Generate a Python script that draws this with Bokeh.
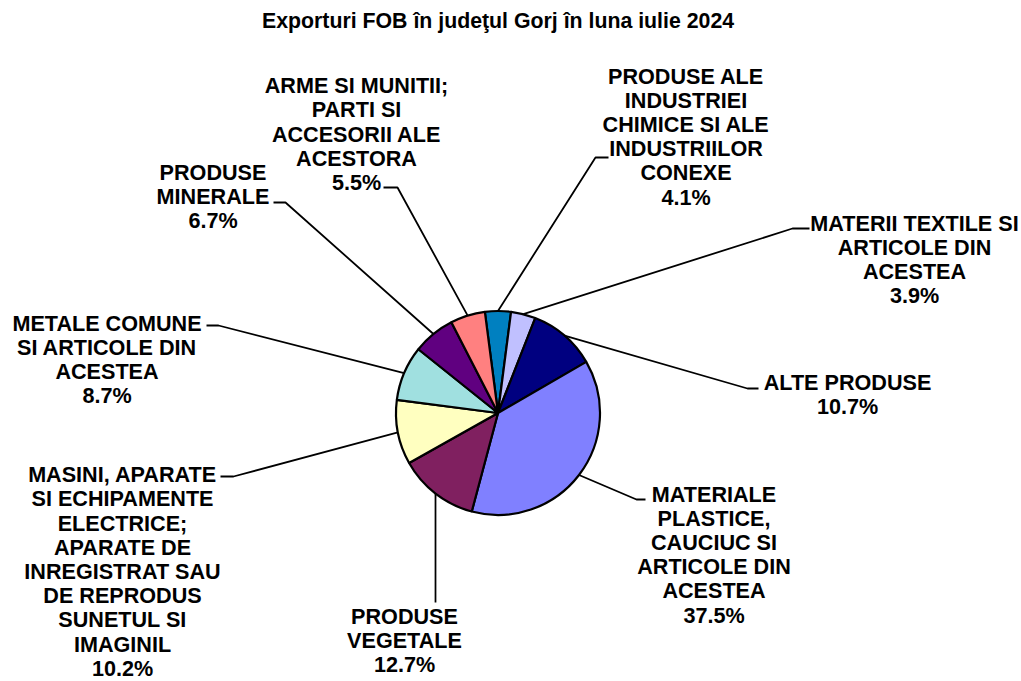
import numpy as np
from bokeh.plotting import figure
from bokeh.models import Range1d, ColumnDataSource
from bokeh.core.properties import value
from bokeh.embed import file_html
from bokeh.resources import INLINE

# ---------------- data ----------------
title_text = "Exporturi FOB în judeţul Gorj în luna iulie 2024"

categories = [
    "PRODUSE ALE\nINDUSTRIEI\nCHIMICE SI ALE\nINDUSTRIILOR\nCONEXE",
    "MATERII TEXTILE SI\nARTICOLE DIN\nACESTEA",
    "ALTE PRODUSE",
    "MATERIALE\nPLASTICE,\nCAUCIUC SI\nARTICOLE DIN\nACESTEA",
    "PRODUSE\nVEGETALE",
    "MASINI, APARATE\nSI ECHIPAMENTE\nELECTRICE;\nAPARATE DE\nINREGISTRAT SAU\nDE REPRODUS\nSUNETUL SI\nIMAGINIL",
    "METALE COMUNE\nSI ARTICOLE DIN\nACESTEA",
    "PRODUSE\nMINERALE",
    "ARME SI MUNITII;\nPARTI SI\nACCESORII ALE\nACESTORA",
]
values = [4.1, 3.9, 10.7, 37.5, 12.7, 10.2, 8.7, 6.7, 5.5]
colors = ["#0080C0", "#C0C0FF", "#000080", "#8080FF", "#802060",
          "#FFFFC0", "#A0E0E0", "#600080", "#FF8080"]

# ---------------- layout (screen px) ----------------
W, H = 1021, 681
def sy(y):
    return H - y

CX, CY, R = 497.5, 412.5, 102
START = -7.4  # degrees clockwise from 12 o'clock
LINE = 24.2   # label line spacing

# label block centres (x, y) in screen px
label_pos = [(685.5, 136), (914, 259), (847, 394), (713.5, 554), (404, 640),
             (122, 571), (106.5, 359), (212.5, 196), (356, 133.5)]
# leader: anchor near text, elbow
anchors = [(608, 157), (809, 228), (758, 388), (645, 499), (435, 602),
           (220, 476), (206, 325), (273, 202), (383, 187)]
elbows = [(595, 157), (792, 228), (747, 388), (636, 499), (435, 602),
          (233, 476), (218, 325), (285, 202), (397, 187)]

# ---------------- figure ----------------
p = figure(width=W, height=H, x_range=Range1d(0, W), y_range=Range1d(0, H),
           output_backend="svg", toolbar_location=None,
           x_axis_location=None, y_axis_location=None, min_border=0)
p.grid.visible = False
p.outline_line_color = None
p.background_fill_color = "white"
p.border_fill_color = "white"

vals = np.array(values)
deg = vals / vals.sum() * 360.0
cum = np.concatenate([[0], np.cumsum(deg)]) + START
th_a, th_b = cum[:-1], cum[1:]
start_ang = np.radians(90 - th_b)
end_ang = np.radians(90 - th_a)

src = ColumnDataSource(dict(start=start_ang, end=end_ang, color=colors))
p.wedge(x=CX, y=sy(CY), radius=R, start_angle="start", end_angle="end",
        fill_color="color", line_color="black", line_width=2.2, source=src)

# leader lines
mid = np.radians((th_a + th_b) / 2)
xs, ys = [], []
for i in range(len(values)):
    ex = CX + R * np.sin(mid[i])
    ey = sy(CY) + R * np.cos(mid[i])
    ax, ay = anchors[i]
    bx, by = elbows[i]
    xs.append([ax, bx, ex])
    ys.append([sy(ay), sy(by), ey])
p.multi_line(xs=xs, ys=ys, line_color="black", line_width=1.8)

# labels, one text per line
lx, ly, lt = [], [], []
for (cx, cy), c, v in zip(label_pos, categories, values):
    lines = c.split("\n") + [f"{v:.1f}%"]
    n = len(lines)
    for k, ln in enumerate(lines):
        lx.append(cx)
        ly.append(sy(cy + (k - (n - 1) / 2) * LINE))
        lt.append(ln)
lsrc = ColumnDataSource(dict(x=lx, y=ly, t=lt))
p.text(x="x", y="y", text="t", source=lsrc, text_font=value("Liberation Sans"),
       text_font_style="bold", text_font_size="21.6px", text_align="center",
       text_baseline="middle", text_color="black")

p.text(x=[497.5], y=[sy(20)], text=[title_text], text_font=value("Liberation Sans"),
       text_font_style="bold", text_font_size="21.3px", text_align="center",
       text_baseline="middle", text_color="black")

open("out.html", "w").write(file_html(p, INLINE))
